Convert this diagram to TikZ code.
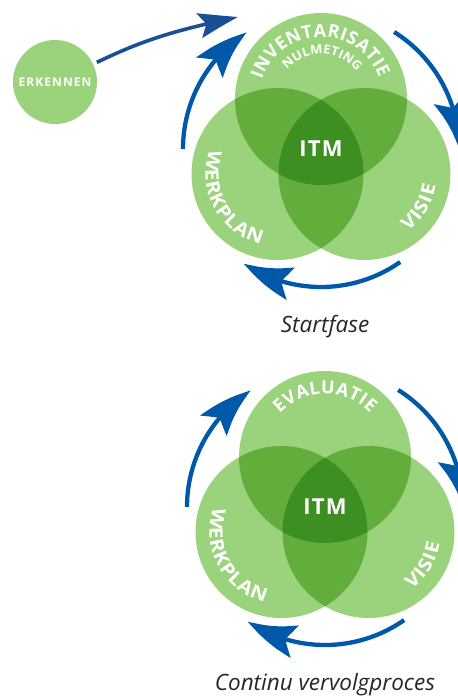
\documentclass[tikz,border=0pt]{standalone}
\usepackage{fontspec}
\setmainfont{Open Sans}
\usetikzlibrary{arrows.meta,bending,decorations.text,calc}
\definecolor{gA}{HTML}{9BD37D}
\definecolor{gB}{HTML}{62AD3C}
\definecolor{gC}{HTML}{3D8F22}
\definecolor{arrblue}{HTML}{0058A8}
\definecolor{erkblue}{HTML}{1A4F96}
\newcommand\labfont{\fontsize{18}{18}\selectfont\bfseries}
\newcommand\sidefont{\fontsize{18.5}{18.5}\selectfont\bfseries\addfontfeature{FakeStretch=1.12}}
\newcommand\subfont{\fontsize{12.5}{12.5}\selectfont\bfseries\addfontfeature{FakeStretch=1.05}}
\newcommand\erkfont{\fontsize{12}{12}\selectfont\bfseries\addfontfeature{LetterSpace=9}}
\newcommand\itmfont{\fontsize{22}{22}\selectfont\bfseries\addfontfeature{LetterSpace=6}}
\newcommand\capfont{\fontsize{22.5}{22.5}\selectfont\itshape}
\tikzset{
  cyclearrow/.style={draw=arrblue, line width=4.3pt, -{Stealth[length=52pt,width=33pt,inset=10pt,bend]}},
  erkarrow/.style={draw=erkblue, line width=3.6pt, -{Stealth[length=42pt,width=25pt,inset=8pt,bend]}},
  curvedlabel/.style={decorate, decoration={text along path, text align={fit to path}, text color=white, text={#1}}},
  itmlabel/.style={text=white, font=\itmfont, inner sep=0pt},
  caption/.style={anchor=base, font=\capfont, text=black!85, inner sep=0pt},
}
\newcommand\venndiagram[1]{%
  \coordinate (c#1) at (0,0);
  \coordinate (t#1) at (0,50);
  \coordinate (l#1) at (-43.5,-25);
  \coordinate (r#1) at (43.5,-25);
  \fill[gA] (t#1) circle[radius=86];
  \fill[gA] (l#1) circle[radius=86];
  \fill[gA] (r#1) circle[radius=86];
  \begin{scope}
    \clip (t#1) circle[radius=86];
    \fill[gB] (l#1) circle[radius=86];
    \fill[gB] (r#1) circle[radius=86];
  \end{scope}
  \begin{scope}
    \clip (l#1) circle[radius=86];
    \fill[gB] (r#1) circle[radius=86];
  \end{scope}
  \begin{scope}
    \clip (t#1) circle[radius=86];
    \clip (l#1) circle[radius=86];
    \fill[gC] (r#1) circle[radius=86];
  \end{scope}
  \node[itmlabel] (itm#1) at (c#1) {ITM};
  \path[curvedlabel={|\sidefont|WERKPLAN}] ($(l#1)+(160:72)$) arc[start angle=160,end angle=256.6,radius=72];
  \path[curvedlabel={|\sidefont|VISIE}] ($(r#1)+(-53:72)$) arc[start angle=-53,end angle=-9,radius=72];
  \coordinate (lefts#1) at ($(c#1)+(180:138)$);
  \coordinate (rights#1) at ($(c#1)+(58:138)$);
  \coordinate (bots#1) at ($(c#1)+(-55:138)$);
  \draw[cyclearrow] (lefts#1) arc[start angle=180,end angle=122.5,radius=138];
  \draw[cyclearrow] (rights#1) arc[start angle=58,end angle=0,radius=138];
  \draw[cyclearrow] (bots#1) arc[start angle=-55,end angle=-124,radius=138];
}
\begin{document}
\begin{tikzpicture}[x=1pt,y=1pt]
\useasboundingbox (0,0) rectangle (458,-697);
\clip (0,0) rectangle (458,-697);
% top diagram
\begin{scope}[shift={(321,-149)}]
  \venndiagram{a}
  \path[curvedlabel={|\labfont|INVENTARISATIE}] ($(ta)+(162:62)$) arc[start angle=162,end angle=20,radius=62];
  \path[curvedlabel={|\subfont|NULMETING}] ($(ta)+(139:45)$) arc[start angle=139,end angle=43,radius=45];
\end{scope}
% bottom diagram
\begin{scope}[shift={(325,-507)}]
  \venndiagram{b}
  \path[curvedlabel={|\labfont|EVALUATIE}] ($(tb)+(136:63)$) arc[start angle=136,end angle=44,radius=63];
\end{scope}
% erkennen
\node[circle, fill=gA, minimum size=84pt, inner sep=0pt, text=white, font=\erkfont] (erk) at (55,-82) {ERKENNEN};
\coordinate (erkend) at (238,-17);
\draw[erkarrow, shorten <=4pt] (erk.25) to[out=26,in=192] (erkend);
% captions
\node[caption] (cap1) at (325,-332) {Startfase};
\node[caption] (cap2) at (325,-690) {Continu vervolgproces};
\end{tikzpicture}
\end{document}
